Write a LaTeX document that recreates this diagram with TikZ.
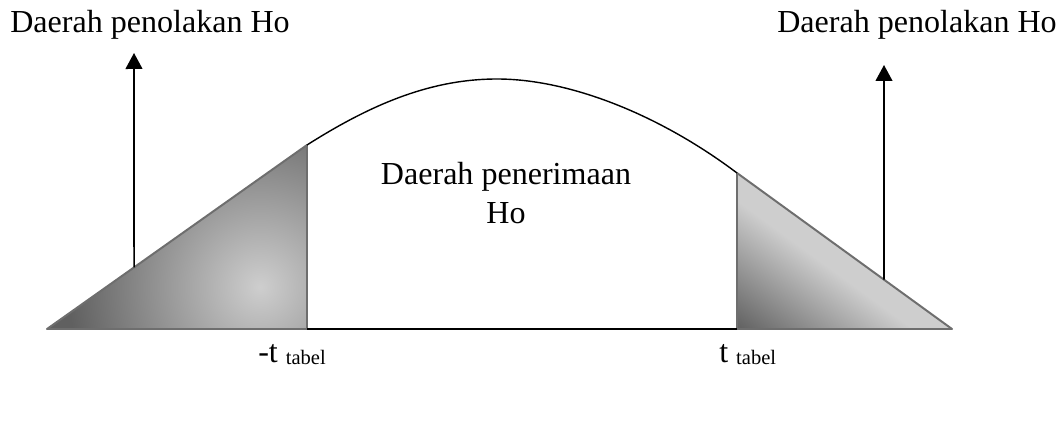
\documentclass[tikz,border=0pt]{standalone}
\usepackage{fontspec}
\setmainfont{Liberation Serif}
\usetikzlibrary{arrows.meta,calc}
\definecolor{edgegray}{RGB}{110,110,110}
\definecolor{shadowgray}{RGB}{202,202,202}
\definecolor{darkfill}{RGB}{96,96,96}
\definecolor{lightfill}{RGB}{206,206,206}
\newcommand{\bigtext}{\fontsize{22.8}{27.4}\selectfont}
\newcommand{\subtext}{\fontsize{14.6}{17}\selectfont}

\begin{document}
\begin{tikzpicture}[
    words/.style={inner sep=0pt,font=\bigtext},
    upward/.style={-{Triangle[length=4mm,width=4.2mm]},line width=1.2pt},
    tail/.style={edgegray,line width=1.4pt,line join=round}]
  \useasboundingbox (0,0) rectangle (26.55,10.675);
  \coordinate (A) at (1.175,2.45);
  \coordinate (B) at (7.675,2.45);
  \coordinate (C) at (7.675,7.05);
  \coordinate (D) at (18.425,6.35);
  \coordinate (E) at (18.425,2.45);
  \coordinate (F) at (23.8,2.45);
  % shadows
  \fill[shadowgray,shift={(0.09,-0.09)}] (A) -- (B) -- (C) -- cycle;
  \fill[shadowgray,shift={(0.09,-0.09)}] (D) -- (E) -- (F) -- cycle;
  % left tail
  \begin{scope}
    \clip (A) -- (B) -- (C) -- cycle;
    \fill[darkfill] (A) -- (B) -- (C) -- cycle;
    \shade[inner color=lightfill,outer color=darkfill] (6.5,3.5) circle (4.8);
  \end{scope}
  \draw[tail] (A) -- (B) -- (C) -- cycle;
  % right tail
  \begin{scope}
    \clip (D) -- (E) -- (F) -- cycle;
    \fill[lightfill] (D) -- (E) -- (F) -- cycle;
    \begin{scope}[transform canvas={shift={(E)},rotate=53.9}]
      \shade[left color=darkfill,right color=lightfill] (0,-5) rectangle (2.6,5);
    \end{scope}
  \end{scope}
  \draw[tail] (D) -- (E) -- (F) -- cycle;
  % curve and axis
  \draw[line width=1pt] (B) -- (E);
  \draw[line width=1pt] (C) .. controls (9.25,8.05) and (10.75,8.7) .. (12.425,8.7)
    .. controls (14.25,8.7) and (16.5,7.8) .. (D);
  % arrows
  \coordinate (lfoot) at ($(A)!0.335!(C)$);
  \coordinate (ltip) at (3.35,9.35);
  \coordinate (rfoot) at ($(D)!0.684!(F)$);
  \coordinate (rtip) at (22.1,9.05);
  \draw[upward] (lfoot) -- (ltip);
  \draw[upward] (rfoot) -- (rtip);
  % labels
  \node[words,anchor=base west] (rejectleft) at (0.25,9.85) {Daerah penolakan Ho};
  \node[words,anchor=base east] (rejectright) at (26.425,9.85) {Daerah penolakan Ho};
  \node[words,anchor=base] (accepttop) at (12.65,6.05) {Daerah penerimaan};
  \node[words,anchor=base] (acceptbottom) at (12.65,5.075) {Ho};
  \node[words,anchor=base west] (tleft) at (6.45,1.625) {-t \raisebox{-1.5pt}{\subtext tabel}};
  \node[words,anchor=base west] (tright) at (17.975,1.625) {t \raisebox{-1.5pt}{\subtext tabel}};
\end{tikzpicture}
\end{document}
